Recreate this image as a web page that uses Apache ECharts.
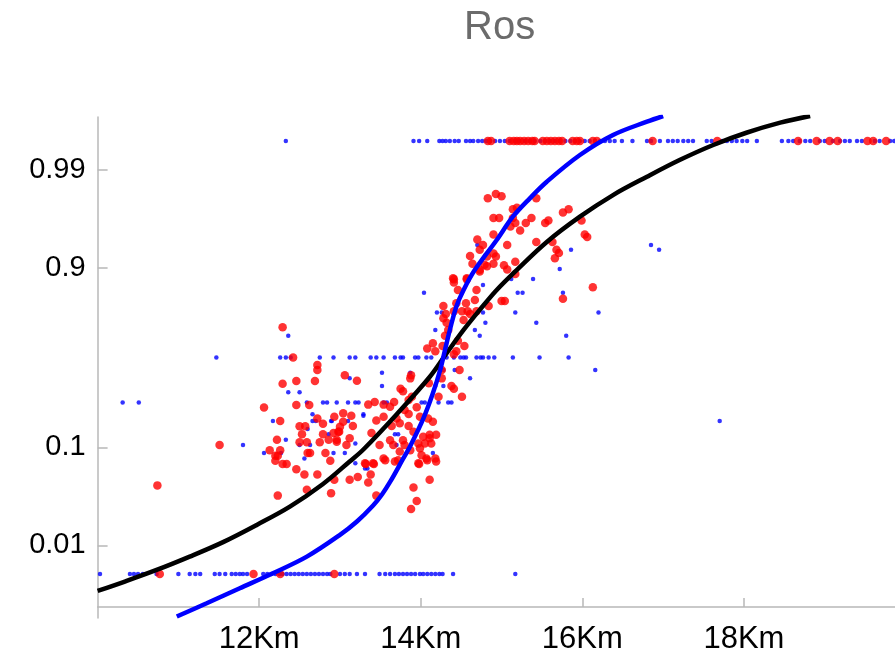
<!DOCTYPE html>
<html><head><meta charset="utf-8">
<script src="https://cdn.jsdelivr.net/npm/echarts@6/dist/echarts.min.js"></script>
<style>html,body{margin:0;padding:0;background:#fff}#c{width:895px;height:654px}</style>
</head><body><div id="c"></div>
<script>
const titleText = 'Ros';
const xTickKm = [12, 14, 16, 18];
const yTickProb = [0.01, 0.1, 0.9, 0.99];
const yTickLabels = ['0.01', '0.1', '0.9', '0.99'];

// [distance in Km, probability]
const blueDots = [
  [12.33,0.995],[13.91,0.995],[13.98,0.995],[14.08,0.995],[14.23,0.995],[14.27,0.995],[14.31,0.995],[14.36,0.995],[14.42,0.995],[14.47,0.995],
  [14.56,0.995],[14.61,0.995],[14.65,0.995],[14.71,0.995],[14.76,0.995],[14.81,0.995],[14.86,0.995],[14.92,0.995],[14.98,0.995],[15.04,0.995],
  [15.10,0.995],[15.17,0.995],[15.22,0.995],[15.29,0.995],[15.35,0.995],[15.41,0.995],[15.48,0.995],[15.54,0.995],[15.60,0.995],[15.66,0.995],
  [15.72,0.995],[15.79,0.995],[15.85,0.995],[15.91,0.995],[15.97,0.995],[16.03,0.995],[16.09,0.995],[16.16,0.995],[16.22,0.995],[16.28,0.995],
  [16.34,0.995],[16.40,0.995],[16.49,0.995],[16.62,0.995],[16.80,0.995],[16.85,0.995],[16.96,0.995],[17.06,0.995],[17.12,0.995],[17.18,0.995],
  [17.25,0.995],[17.31,0.995],[17.37,0.995],[17.54,0.995],[17.60,0.995],[17.73,0.995],[17.79,0.995],[17.85,0.995],[17.91,0.995],[17.98,0.995],
  [18.04,0.995],[18.16,0.995],[18.47,0.995],[18.55,0.995],[18.61,0.995],[18.69,0.995],[18.76,0.995],[18.82,0.995],[18.94,0.995],[19.00,0.995],
  [19.10,0.995],[19.19,0.995],[19.25,0.995],[19.31,0.995],[19.40,0.995],[19.46,0.995],[19.62,0.995],[19.68,0.995],[19.81,0.995],[19.86,0.995],
  [10.03,0.005],[10.40,0.005],[10.45,0.005],[10.50,0.005],[10.56,0.005],[10.73,0.005],[11.00,0.005],[11.14,0.005],[11.21,0.005],[11.27,0.005],
  [11.45,0.005],[11.51,0.005],[11.58,0.005],[11.66,0.005],[11.71,0.005],[11.76,0.005],[11.80,0.005],[11.85,0.005],[12.05,0.005],[12.10,0.005],
  [12.15,0.005],[12.20,0.005],[12.25,0.005],[12.29,0.005],[12.34,0.005],[12.39,0.005],[12.44,0.005],[12.49,0.005],[12.54,0.005],[12.59,0.005],
  [12.64,0.005],[12.69,0.005],[12.74,0.005],[12.79,0.005],[12.84,0.005],[12.88,0.005],[13.00,0.005],[13.06,0.005],[13.12,0.005],[13.21,0.005],
  [13.31,0.005],[13.49,0.005],[13.56,0.005],[13.62,0.005],[13.68,0.005],[13.73,0.005],[13.78,0.005],[13.83,0.005],[13.88,0.005],[13.93,0.005],
  [13.99,0.005],[14.03,0.005],[14.08,0.005],[14.13,0.005],[14.18,0.005],[14.23,0.005],[14.27,0.005],[14.40,0.005],[15.17,0.005],
  [11.47,0.5],[12.26,0.5],[12.33,0.5],[12.39,0.5],[12.75,0.5],[12.92,0.5],[13.12,0.5],[13.19,0.5],[13.38,0.5],[13.45,0.5],
  [13.54,0.5],[13.68,0.5],[13.75,0.5],[13.78,0.5],[13.93,0.5],[13.97,0.5],[14.07,0.5],[14.13,0.5],[14.32,0.5],[14.41,0.5],
  [14.49,0.5],[14.53,0.5],[14.56,0.5],[14.69,0.5],[14.74,0.5],[14.77,0.5],[14.84,0.5],[14.91,0.5],[15.14,0.5],[15.47,0.5],[15.83,0.5],
  [10.31,0.25],[10.51,0.25],[12.59,0.25],[12.79,0.25],[12.84,0.25],[12.96,0.25],[13.10,0.25],[13.19,0.25],[13.23,0.25],[13.54,0.25],
  [13.58,0.25],[14.01,0.25],[14.05,0.25],[14.22,0.25],[14.34,0.25],[14.38,0.25],
  [14.20,0.75],[14.26,0.75],[14.77,0.75],[15.17,0.75],[16.20,0.75],
  [14.70,0.94],[15.86,0.933],[16.85,0.94],[16.95,0.933],[15.72,0.897],[15.39,0.872],[15.12,0.872],[12.36,0.63],[12.36,0.30],[12.50,0.30],
  [12.66,0.2],[12.66,0.175],[12.70,0.175],[12.89,0.175],[12.17,0.175],[12.60,0.148],[12.86,0.133],[12.33,0.118],[12.50,0.105],[12.63,0.105],
  [11.80,0.105],[12.06,0.088],[12.27,0.088],[12.92,0.088],[12.56,0.078],[14.04,0.83],[15.20,0.83],[15.26,0.83],[15.76,0.83],[14.77,0.855],
  [14.80,0.70],[15.43,0.70],[14.18,0.662],[14.67,0.662],[14.73,0.63],[15.80,0.63],[13.52,0.408],[13.52,0.333],[14.42,0.424],[14.28,0.424],
  [14.61,0.375],[16.16,0.424],[13.12,0.375],[13.87,0.408],[14.18,0.333],[14.28,0.333],[13.29,0.2],[13.29,0.194],[13.10,0.175],[12.90,0.175],
  [13.68,0.133],[13.72,0.133],[13.19,0.109],[13.70,0.105],[13.06,0.088],[14.15,0.088],[13.19,0.070],[13.34,0.062],[13.31,0.062],[17.70,0.175]
];

const redDots = [
  [14.83,0.980],[14.70,0.947],[14.77,0.940],[14.61,0.923],[14.73,0.933],[14.64,0.908],[14.40,0.874],[14.57,0.874],[14.79,0.906],
  [14.93,0.982],[15.00,0.981],[15.43,0.980],[15.14,0.974],[15.19,0.975],[14.90,0.968],[14.97,0.968],[15.14,0.968],[15.37,0.968],[15.30,0.964],
  [15.11,0.961],[15.17,0.964],[15.54,0.964],[15.58,0.966],[15.76,0.972],[15.83,0.974],[15.99,0.966],[14.90,0.953],[15.23,0.957],[16.03,0.953],
  [16.06,0.950],[15.07,0.940],[15.43,0.944],[15.63,0.944],[15.68,0.933],[15.71,0.928],[15.66,0.919],[14.90,0.927],[14.93,0.922],[14.82,0.922],
  [14.90,0.908],[14.82,0.903],[15.03,0.905],[15.17,0.912],[15.07,0.896],[15.17,0.885],[14.73,0.895],
  [14.83,0.995],[14.87,0.995],[15.10,0.995],[15.15,0.995],[15.19,0.995],[15.23,0.995],[15.28,0.995],[15.33,0.995],[15.38,0.995],[15.41,0.995],
  [15.51,0.995],[15.56,0.995],[15.61,0.995],[15.66,0.995],[15.71,0.995],[15.75,0.995],[15.88,0.995],[15.93,0.995],[15.97,0.995],[16.13,0.995],
  [16.18,0.995],[16.87,0.995],[17.67,0.995],[18.67,0.995],[18.90,0.995],[19.06,0.995],[19.16,0.995],[19.53,0.995],[19.60,0.995],[19.76,0.995],
  [12.29,0.677],[12.42,0.5],[12.72,0.454],[12.72,0.424],[12.29,0.345],[12.46,0.360],[12.69,0.360],[12.06,0.227],[12.46,0.238],[12.62,0.238],
  [12.72,0.184],[12.26,0.175],[12.79,0.165],[12.50,0.157],[12.57,0.157],[12.53,0.133],[12.79,0.133],[12.99,0.140],[12.96,0.118],[12.86,0.118],
  [12.75,0.112],[12.50,0.112],[12.59,0.112],[12.22,0.118],[11.51,0.105],[12.13,0.094],[12.26,0.094],[12.60,0.088],[12.63,0.088],[12.82,0.088],
  [12.20,0.083],[12.23,0.083],[12.20,0.074],[12.29,0.069],[12.34,0.069],[12.88,0.074],[12.46,0.061],
  [14.41,0.871],[14.41,0.862],[14.57,0.871],[14.73,0.891],[14.46,0.839],[14.69,0.839],[16.13,0.848],[15.76,0.808],[15.00,0.799],[15.04,0.799],
  [14.44,0.790],[14.28,0.779],[14.56,0.790],[14.67,0.803],[14.84,0.779],[14.41,0.756],[14.51,0.756],[14.58,0.756],[14.69,0.756],[14.31,0.743],
  [14.28,0.723],[14.32,0.701],[14.53,0.714],[14.61,0.743],[14.34,0.662],[14.30,0.630],[14.46,0.601],[14.15,0.586],[14.27,0.570],[14.08,0.554],
  [14.54,0.570],[14.44,0.538],[14.18,0.538],[14.41,0.520],[14.48,0.424],[14.26,0.424],[13.06,0.393],[13.21,0.362],[13.88,0.393],[13.87,0.375],
  [14.26,0.375],[14.10,0.347],[13.75,0.318],[13.78,0.304],[14.38,0.333],[14.41,0.318],[14.51,0.277],[14.22,0.277],[13.89,0.277],[13.85,0.261],
  [13.67,0.252],[13.54,0.240],[13.43,0.252],[13.35,0.240],[13.62,0.231],[13.80,0.217],[13.95,0.228],[13.85,0.201],[13.04,0.204],[13.14,0.194],
  [12.93,0.190],[13.54,0.190],[13.70,0.184],[13.74,0.167],[13.45,0.176],[13.04,0.172],[13.00,0.155],[13.16,0.158],[12.92,0.136],[12.98,0.140],
  [13.39,0.136],[13.64,0.158],[13.85,0.158],[13.99,0.190],[14.09,0.184],[14.15,0.172],[13.91,0.140],[14.11,0.131],[14.19,0.131],[14.03,0.126],
  [13.97,0.109],[13.49,0.105],[13.12,0.122],[12.96,0.113],[13.08,0.105],[13.62,0.117],[13.66,0.105],[13.78,0.117],[13.80,0.105],[14.05,0.109],
  [14.13,0.109],[14.11,0.122],[13.99,0.098],[13.87,0.094],[14.01,0.084],[14.07,0.078],[14.18,0.078],[14.19,0.073],[13.97,0.070],[13.72,0.075],
  [13.74,0.091],[13.54,0.078],[13.31,0.070],[13.41,0.070],
  [10.74,0.042],[12.56,0.054],[12.72,0.054],[12.93,0.048],[12.89,0.035],[12.59,0.038],[12.23,0.033],[13.12,0.048],[13.22,0.051],[13.32,0.069],
  [13.42,0.069],[13.38,0.054],[13.35,0.045],[13.56,0.075],[13.45,0.033],[13.68,0.073],[13.98,0.069],[14.08,0.075],[14.11,0.048],[13.91,0.040],
  [13.95,0.029],[13.88,0.024],
  [10.77,0.005],[11.93,0.005],[12.26,0.005],[12.93,0.005]
];

const blackCurve = [
  [10.00,0.00331],[10.32,0.00411],[10.73,0.00551],[11.14,0.00762],[11.56,0.0109],[11.97,0.0164],[12.38,0.0254],[12.79,0.0434],
  [13.12,0.0729],[13.29,0.0954],[13.70,0.199],[14.11,0.383],[14.32,0.526],[14.53,0.662],[14.73,0.762],[14.94,0.839],[15.19,0.895],
  [15.56,0.944],[15.97,0.969],[16.38,0.9815],[16.80,0.9881],[17.21,0.9921],[17.62,0.99449],[18.03,0.99591],[18.45,0.99680],[18.82,0.99728]
];

const blueCurve = [
  [10.98,0.00177],[11.35,0.00245],[11.76,0.00353],[12.17,0.00509],[12.59,0.00762],[13.00,0.0129],[13.21,0.0178],[13.41,0.0261],
  [13.52,0.0339],[13.62,0.0455],[13.78,0.0772],[13.87,0.103],[14.03,0.182],[14.15,0.294],[14.24,0.424],[14.30,0.546],[14.36,0.662],
  [14.44,0.776],[14.53,0.839],[14.67,0.895],[14.94,0.9465],[15.14,0.969],[15.35,0.980],[15.56,0.98658],[15.97,0.99297],[16.38,0.99568],
  [16.80,0.99688],[17.00,0.99728]
];

// log-odds (logit) scale; the horizontal axis crosses at this log-odds level
const AXIS_LOGODDS = -6.10;
const Y_MIN_LOGODDS = -6.37, Y_MAX_LOGODDS = 5.88;
const X_MIN = 10, X_MAX = 19.87;
function v(p) { return Math.log(p / (1 - p)) - AXIS_LOGODDS; }
const toXY = arr => arr.map(d => [d[0], v(d[1])]);
const yTickVals = yTickProb.map(v);

const FONT = "'Liberation Sans', Arial, Helvetica, sans-serif";
const chart = echarts.init(document.getElementById('c'), null, { renderer: 'canvas' });
chart.setOption({
  animation: false,
  backgroundColor: '#ffffff',
  title: {
    text: titleText, left: 464, top: 8, padding: 0,
    textStyle: { fontSize: 40, fontWeight: 'normal', color: '#6b6b6b', fontFamily: FONT }
  },
  grid: { left: 97.6, right: 0, top: 117, bottom: 36, containLabel: false, outerBoundsMode: 'none' },
  xAxis: {
    type: 'value', min: X_MIN, max: X_MAX,
    axisLine: { show: true, onZero: true, lineStyle: { color: '#b8b8b8', width: 1.5 } },
    axisTick: { show: true, inside: true, length: 9, customValues: xTickKm, lineStyle: { color: '#b8b8b8', width: 1.5 } },
    axisLabel: { customValues: xTickKm, formatter: val => val + 'Km', fontSize: 31, color: '#000', fontFamily: FONT, margin: 6 },
    splitLine: { show: false }
  },
  yAxis: {
    type: 'value', min: Y_MIN_LOGODDS - AXIS_LOGODDS, max: Y_MAX_LOGODDS - AXIS_LOGODDS,
    axisLine: { show: true, onZero: false, lineStyle: { color: '#b8b8b8', width: 1.5 } },
    axisTick: { show: true, inside: true, length: 10, customValues: yTickVals, lineStyle: { color: '#b8b8b8', width: 1.5 } },
    axisLabel: {
      customValues: yTickVals,
      formatter: val => {
        let best = 0;
        yTickVals.forEach((t, i) => { if (Math.abs(t - val) < Math.abs(yTickVals[best] - val)) best = i; });
        return yTickLabels[best];
      },
      fontSize: 29, color: '#000', fontFamily: FONT, margin: 12
    },
    splitLine: { show: false }
  },
  series: [
    { type: 'scatter', data: toXY(blueDots), symbol: 'circle', symbolSize: 4.5, itemStyle: { color: '#0000ff' }, z: 2 },
    { type: 'scatter', data: toXY(redDots), symbol: 'circle', symbolSize: 8.5, itemStyle: { color: '#ff0000' }, z: 3 },
    { type: 'line', data: toXY(blackCurve), showSymbol: false, smooth: 0.35, lineStyle: { color: '#000000', width: 4.5 }, z: 4 },
    { type: 'line', data: toXY(blueCurve), showSymbol: false, smooth: 0.35, lineStyle: { color: '#0000ff', width: 4.5 }, z: 5 }
  ]
});
</script>
</body></html>
